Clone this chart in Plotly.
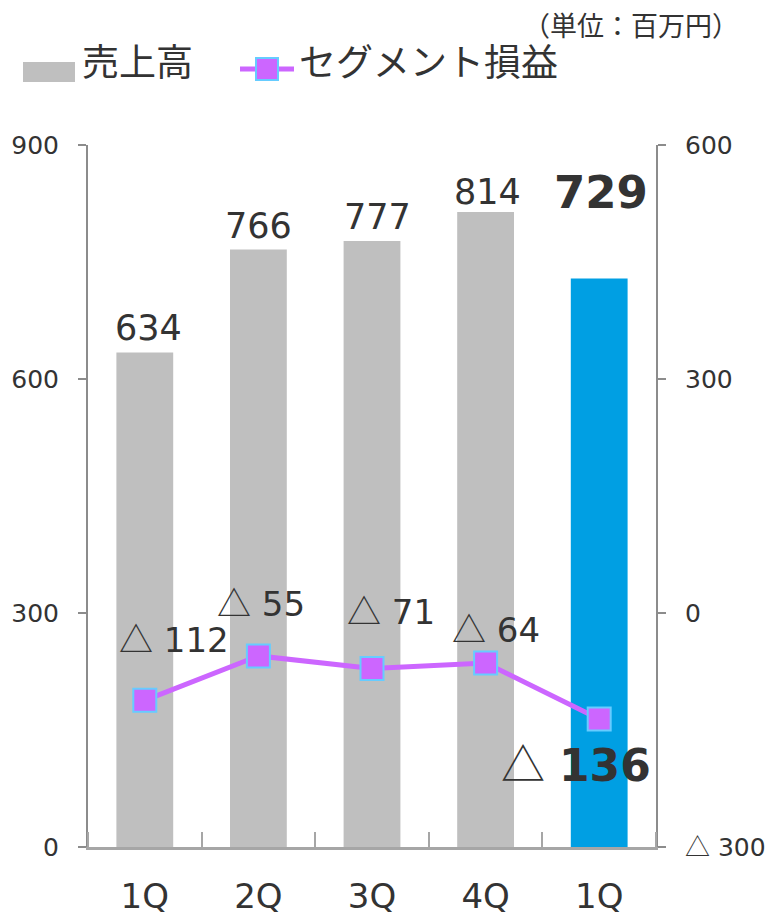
import plotly.graph_objects as go

# Quarterly figures (unit: million yen)
quarters = ["1Q", "2Q", "3Q", "4Q", "1Q"]
sales = [634, 766, 777, 814, 729]
segment_profit = [-112, -55, -71, -64, -136]

bar_colors = ["#BFBFBF", "#BFBFBF", "#BFBFBF", "#BFBFBF", "#009FE3"]
left_ticks = [0, 300, 600, 900]
right_ticks = [-300, 0, 300, 600]

# label placement (pixel offsets from each mark)
sales_label_lift = [24, 24, 24, 20, 86]
sales_label_dx = [4, 0, 5, 2, 2]
profit_label_dx = [29, 3, 19, 10, -23]
profit_label_dy = [63, 54, 59, 35, -43]

W, H = 774, 918
L, R, T, B = 88, 118, 145, 71
PW, PH = W - L - R, H - T - B

NUM_FONT = "DejaVu Sans"
JP_FONT = "Noto Sans CJK JP"
TXT = "#333333"
AXIS_GREY = "#8C8C8C"
LINE_PURPLE = "#CC66FF"

TRI = f"<span style='font-family:{JP_FONT}'>△</span>"


def px(x):
    return (x - L) / PW


def py(y):
    return (H - B - y) / PH


def tri(v, bold=False):
    if v >= 0:
        return f"{v}"
    num = f"<b>{abs(v)}</b>" if bold else f"{abs(v)}"
    return f"{TRI} {num}"


xs = list(range(len(quarters)))

fig = go.Figure()
fig.add_trace(go.Bar(
    x=xs, y=sales, width=0.5, marker=dict(color=bar_colors, line=dict(width=0)),
    name="売上高", yaxis="y", hoverinfo="skip",
))
fig.add_trace(go.Scatter(
    x=xs, y=segment_profit, yaxis="y2", mode="lines+markers", name="セグメント損益",
    line=dict(color=LINE_PURPLE, width=5),
    marker=dict(symbol="square", size=23, color=LINE_PURPLE,
                line=dict(color="#66CCFF", width=2)),
    hoverinfo="skip",
))

annotations = []
for i, v in enumerate(sales):
    last = i == len(sales) - 1
    annotations.append(dict(
        x=i, y=v, xref="x", yref="y", text=f"<b>{v}</b>" if last else f"{v}",
        showarrow=False, xanchor="center", yanchor="middle",
        xshift=sales_label_dx[i], yshift=sales_label_lift[i],
        font=dict(family=NUM_FONT, size=45 if last else 35, color=TXT),
    ))
for i, v in enumerate(segment_profit):
    last = i == len(segment_profit) - 1
    annotations.append(dict(
        x=i, y=v, xref="x", yref="y2", text=tri(v, bold=last),
        showarrow=False, xanchor="center", yanchor="middle",
        xshift=profit_label_dx[i], yshift=profit_label_dy[i],
        font=dict(family=NUM_FONT, size=44 if last else 34, color=TXT),
    ))

# legend and unit note
annotations += [
    dict(x=px(80), y=py(60), xref="paper", yref="paper", text="売上高",
         showarrow=False, xanchor="left", yanchor="middle",
         font=dict(family=JP_FONT, size=37, color=TXT)),
    dict(x=px(297), y=py(60), xref="paper", yref="paper", text="セグメント損益",
         showarrow=False, xanchor="left", yanchor="middle",
         font=dict(family=JP_FONT, size=37, color=TXT)),
    dict(x=px(741), y=py(25), xref="paper", yref="paper", text="（単位：百万円）",
         showarrow=False, xanchor="right", yanchor="middle",
         font=dict(family=JP_FONT, size=27, color=TXT)),
]

shapes = [
    dict(type="rect", xref="paper", yref="paper", x0=px(23), x1=px(75),
         y0=py(82), y1=py(62), fillcolor="#BFBFBF", line=dict(width=0)),
    dict(type="line", xref="paper", yref="paper", x0=px(240), x1=px(294),
         y0=py(69), y1=py(69), line=dict(color=LINE_PURPLE, width=5)),
    dict(type="rect", xref="paper", yref="paper", x0=px(256), x1=px(278),
         y0=py(80), y1=py(58), fillcolor=LINE_PURPLE,
         line=dict(color="#66CCFF", width=2)),
]

fig.update_layout(
    width=W, height=H,
    margin=dict(l=L, r=R, t=T, b=B, pad=0, autoexpand=False),
    paper_bgcolor="white", plot_bgcolor="white",
    showlegend=False,
    annotations=annotations, shapes=shapes,
    xaxis=dict(
        range=[-0.5, 4.5], tickmode="array", tickvals=xs, ticktext=quarters,
        ticks="", showgrid=False, zeroline=False, automargin=False,
        showline=True, linecolor="#A6A6A6", linewidth=3,
        tickfont=dict(family=NUM_FONT, size=34, color=TXT),
        ticklabelstandoff=17,
        minor=dict(tickmode="array", tickvals=[x - 0.5 for x in range(len(quarters) + 1)],
                   ticks="inside", ticklen=15, tickwidth=2, tickcolor="#A6A6A6",
                   showgrid=False),
    ),
    yaxis=dict(
        range=[0, 900], tickmode="array", tickvals=left_ticks,
        ticktext=[str(t) for t in left_ticks], automargin=False,
        ticks="outside", ticklen=8, tickwidth=2, tickcolor=AXIS_GREY,
        showline=True, linecolor=AXIS_GREY, linewidth=2,
        showgrid=False, zeroline=False,
        tickfont=dict(family=NUM_FONT, size=25, color=TXT),
        ticklabelstandoff=14,
    ),
    yaxis2=dict(
        range=[-300, 600], overlaying="y", side="right", tickmode="array",
        tickvals=right_ticks, ticktext=[tri(t) for t in right_ticks], automargin=False,
        ticks="outside", ticklen=8, tickwidth=2, tickcolor=AXIS_GREY,
        showline=True, linecolor=AXIS_GREY, linewidth=2,
        showgrid=False, zeroline=False,
        tickfont=dict(family=NUM_FONT, size=25, color=TXT),
        ticklabelstandoff=14,
    ),
)

fig.write_html("out.html")
